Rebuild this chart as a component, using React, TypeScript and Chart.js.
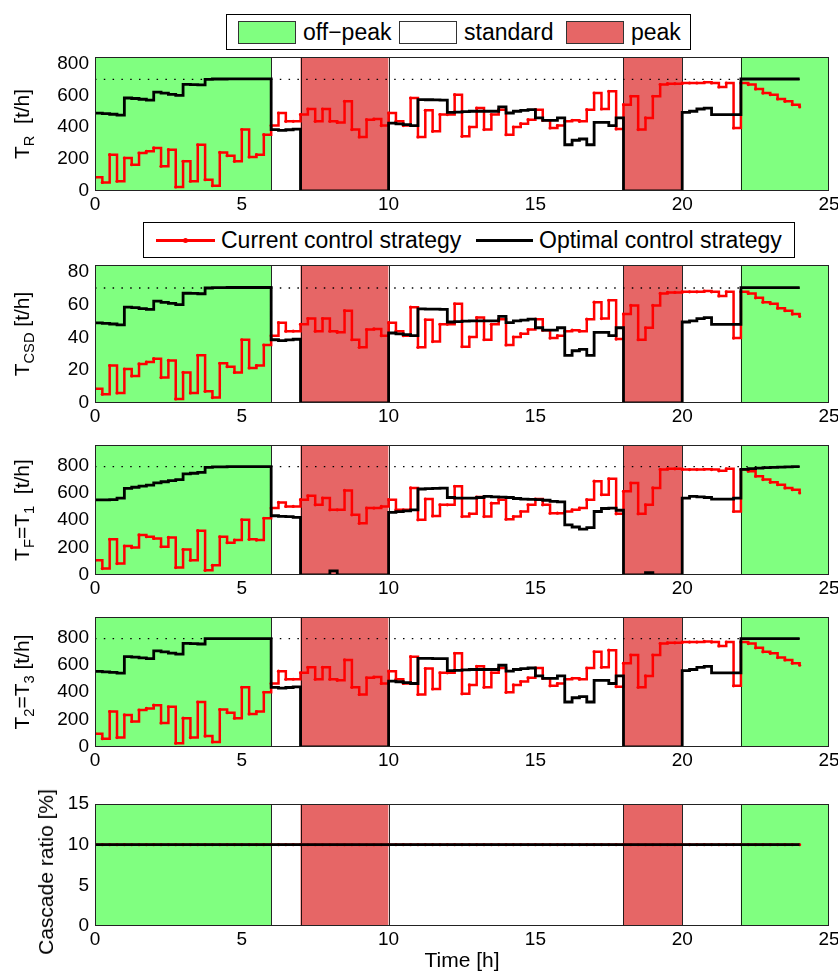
import React, { useEffect, useRef } from "react";
import { Chart, registerables } from "chart.js";
Chart.register(...registerables);

const FONT = '"Liberation Sans", Arial, Helvetica, sans-serif';

// time grid [h]
const TIME = [0,0.25,0.5,0.75,1,1.25,1.5,1.75,2,2.25,2.5,2.75,3,3.25,3.5,3.75,4,4.25,4.5,4.75,5,5.25,5.5,5.75,6,6.25,6.5,6.75,7,7.25,7.5,7.75,8,8.25,8.5,8.75,9,9.25,9.5,9.75,10,10.25,10.5,10.75,11,11.25,11.5,11.75,12,12.25,12.5,12.75,13,13.25,13.5,13.75,14,14.25,14.5,14.75,15,15.25,15.5,15.75,16,16.25,16.5,16.75,17,17.25,17.5,17.75,18,18.25,18.5,18.75,19,19.25,19.5,19.75,20,20.25,20.5,20.75,21,21.25,21.5,21.75,22,22.25,22.5,22.75,23,23.25,23.5,23.75,24];

// T_R [t/h]
const T_R_CURRENT = [86,54,228,61,207,165,238,249,270,155,259,25,186,61,290,71,33,242,221,186,385,213,228,353,
410,489,437,437,479,514,437,514,437,430,562,385,339,447,451,410,489,437,410,583,339,506,374,479,
479,604,343,401,520,385,479,510,353,401,422,447,510,443,395,410,437,443,437,510,614,514,625,389,
541,594,385,458,594,667,673,673,677,677,677,681,677,652,677,395,677,667,640,614,604,577,562,541,527];
const T_R_OPTIMAL = [488,485,481,476,583,580,575,570,620,613,606,599,668,667,665,700,702,702,703,703,703,703,703,703,
385,380,384,388,0,0,0,0,0,0,0,0,0,0,0,0,426,421,416,410,573,572,571,570,
493,495,498,500,500,500,500,527,489,500,505,510,458,443,443,458,290,318,326,290,430,430,410,458,
0,0,0,0,0,0,0,0,493,500,514,520,479,479,479,479,702,702,702,702,702,702,702,702,702];

// T_CSD [t/h]
const T_CSD_CURRENT = [8.6,5.4,22.8,6.1,20.7,16.5,23.8,24.9,27.0,15.5,25.9,2.5,18.6,6.1,29.0,7.1,3.3,24.2,22.1,18.6,38.5,21.3,22.8,35.3,
41.0,48.9,43.7,43.7,47.9,51.4,43.7,51.4,43.7,43.0,56.2,38.5,33.9,44.7,45.1,41.0,48.9,43.7,41.0,58.3,33.9,50.6,37.4,47.9,
47.9,60.4,34.3,40.1,52.0,38.5,47.9,51.0,35.3,40.1,42.2,44.7,51.0,44.3,39.5,41.0,43.7,44.3,43.7,51.0,61.4,51.4,62.5,38.9,
54.1,59.4,38.5,45.8,59.4,66.7,67.3,67.3,67.7,67.7,67.7,68.1,67.7,65.2,67.7,39.5,67.7,66.7,64.0,61.4,60.4,57.7,56.2,54.1,52.7];
const T_CSD_OPTIMAL = [48.8,48.5,48.1,47.6,58.3,58.0,57.5,57.0,62.0,61.3,60.6,59.9,66.8,66.7,66.5,70.0,70.2,70.2,70.3,70.3,70.3,70.3,70.3,70.3,
38.5,38.0,38.4,38.8,0,0,0,0,0,0,0,0,0,0,0,0,42.6,42.1,41.6,41.0,57.3,57.2,57.1,57.0,
49.3,49.5,49.8,50.0,50.0,50.0,50.0,52.7,48.9,50.0,50.5,51.0,45.8,44.3,44.3,45.8,29.0,31.8,32.6,29.0,43.0,43.0,41.0,45.8,
0,0,0,0,0,0,0,0,49.3,50.0,51.4,52.0,47.9,47.9,47.9,47.9,70.2,70.2,70.2,70.2,70.2,70.2,70.2,70.2,70.2];

// T_F = T_1 [t/h]
const T_F_CURRENT = [108,47,260,83,211,200,292,279,267,206,274,54,186,108,323,34,71,279,235,255,402,260,255,414,
488,529,500,500,549,578,512,561,475,475,617,439,377,488,488,500,549,475,475,635,402,554,431,512,
512,647,426,446,568,426,524,549,407,426,463,512,554,512,451,451,463,475,488,549,684,586,701,446,
610,671,446,512,635,769,774,774,770,769,769,771,769,760,774,463,769,757,720,696,676,659,635,622,598];
const T_F_OPTIMAL = [548,548,550,560,632,640,648,655,672,680,688,695,738,742,748,785,788,789,790,790,790,790,790,790,
432,428,425,420,0,0,0,0,30,0,0,0,0,0,0,0,456,462,468,475,627,630,632,634,
565,561,561,561,565,573,570,568,565,558,554,552,549,545,537,533,365,350,335,345,463,485,488,472,
0,0,0,18,0,0,0,0,561,573,570,565,554,554,554,561,770,775,780,783,785,787,788,790,790];

// T_2 = T_3 [t/h]
const T_23_CURRENT = [97,61,258,69,234,186,269,281,305,175,293,28,210,69,328,80,37,273,250,210,435,241,258,399,
463,553,494,494,541,581,494,581,494,486,635,435,383,505,510,463,553,494,463,659,383,572,423,541,
541,683,388,453,588,435,541,576,399,453,477,505,576,501,446,463,494,501,494,576,694,581,706,440,
611,671,435,518,671,754,760,760,765,765,765,770,765,737,765,446,765,754,723,694,683,652,635,611,596];
const T_23_OPTIMAL = [551,548,544,538,659,655,650,644,701,693,685,677,755,754,751,790,790,790,790,790,790,790,790,790,
435,429,434,438,0,0,0,0,0,0,0,0,0,0,0,0,481,476,470,463,647,646,645,644,
557,559,563,565,565,565,565,596,553,565,571,576,518,501,501,518,328,359,368,328,486,486,463,518,
0,0,0,0,0,0,0,0,557,565,581,588,541,541,541,541,790,790,790,790,790,790,790,790,790];

// Cascade ratio [%]
const CASCADE_CURRENT = [10,10,10,10,10,10,10,10,10,10,10,10,10,10,10,10,10,10,10,10,10,10,10,10,
10,10,10,10,10,10,10,10,10,10,10,10,10,10,10,10,10,10,10,10,10,10,10,10,
10,10,10,10,10,10,10,10,10,10,10,10,10,10,10,10,10,10,10,10,10,10,10,10,
10,10,10,10,10,10,10,10,10,10,10,10,10,10,10,10,10,10,10,10,10,10,10,10,10];
const CASCADE_OPTIMAL = [10,10,10,10,10,10,10,10,10,10,10,10,10,10,10,10,10,10,10,10,10,10,10,10,
10,10,10,10,10,10,10,10,10,10,10,10,10,10,10,10,10,10,10,10,10,10,10,10,
10,10,10,10,10,10,10,10,10,10,10,10,10,10,10,10,10,10,10,10,10,10,10,10,
10,10,10,10,10,10,10,10,10,10,10,10,10,10,10,10,10,10,10,10,10,10,10,10,10];

// capacity limits (dotted lines)
const LIMIT_VALUES = [700, 70, 790, 790];
const LIMIT_START = 0;
const LIMIT_END = 24;

// tick labels
const X_TICKS = [0, 5, 10, 15, 20, 25];
const Y_TICKS_T = [0, 200, 400, 600, 800];
const Y_TICKS_CSD = [0, 20, 40, 60, 80];
const Y_TICKS_RATIO = [0, 5, 10, 15];

// tariff periods
const BAND_START = [0, 6, 7, 10, 18, 20, 22];
const BAND_END = [6, 7, 10, 18, 20, 22, 25];
const BAND_KIND = ["off", "std", "peak", "std", "peak", "std", "off"];
const BAND_COLORS: Record<string, string> = { off: "#80ff80", std: "#ffffff", peak: "#e66666" };

const X_MIN = 0;
const X_MAX = 25;

const PAD_T = 10;

type PanelCfg = {
  plotTop: number;
  plotH: number;
  axisH: number;
  yMax: number;
  yTicks: number[];
  limit: number | null;
  current: number[];
  optimal: number[];
  xTitle: string | null;
};

const PANELS: PanelCfg[] = [
  { plotTop: 57, plotH: 134, axisH: 28, yMax: 840, yTicks: Y_TICKS_T, limit: LIMIT_VALUES[0], current: T_R_CURRENT, optimal: T_R_OPTIMAL, xTitle: null },
  { plotTop: 265, plotH: 138, axisH: 28, yMax: 84, yTicks: Y_TICKS_CSD, limit: LIMIT_VALUES[1], current: T_CSD_CURRENT, optimal: T_CSD_OPTIMAL, xTitle: null },
  { plotTop: 445, plotH: 130, axisH: 28, yMax: 948, yTicks: Y_TICKS_T, limit: LIMIT_VALUES[2], current: T_F_CURRENT, optimal: T_F_OPTIMAL, xTitle: null },
  { plotTop: 617, plotH: 130, axisH: 28, yMax: 948, yTicks: Y_TICKS_T, limit: LIMIT_VALUES[3], current: T_23_CURRENT, optimal: T_23_OPTIMAL, xTitle: null },
  { plotTop: 804, plotH: 122, axisH: 48, yMax: 15, yTicks: Y_TICKS_RATIO, limit: null, current: CASCADE_CURRENT, optimal: CASCADE_OPTIMAL, xTitle: "Time [h]" },
];

const bandsPlugin = {
  id: "bands",
  beforeDatasetsDraw(chart: any) {
    const { ctx, chartArea: a, scales } = chart;
    const x = scales.x;
    ctx.save();
    for (let i = 0; i < BAND_START.length; i++) {
      const x0 = x.getPixelForValue(BAND_START[i]);
      const x1 = x.getPixelForValue(BAND_END[i]);
      ctx.fillStyle = BAND_COLORS[BAND_KIND[i]];
      ctx.fillRect(x0, a.top, x1 - x0, a.bottom - a.top);
    }
    ctx.strokeStyle = "rgba(0,0,0,0.85)";
    ctx.lineWidth = 1;
    for (let i = 1; i < BAND_START.length; i++) {
      const px = Math.round(x.getPixelForValue(BAND_START[i])) + 0.5;
      ctx.beginPath();
      ctx.moveTo(px, a.top);
      ctx.lineTo(px, a.bottom);
      ctx.stroke();
    }
    ctx.restore();
  },
  afterDraw(chart: any) {
    const { ctx, chartArea: a } = chart;
    ctx.save();
    ctx.strokeStyle = "#222";
    ctx.lineWidth = 1;
    ctx.strokeRect(Math.round(a.left) + 0.5, Math.round(a.top) + 0.5, Math.round(a.right - a.left) - 1, Math.round(a.bottom - a.top) - 1);
    ctx.restore();
  },
};

function Panel({ cfg }: { cfg: PanelCfg }) {
  const ref = useRef<HTMLCanvasElement>(null);
  const h = PAD_T + cfg.plotH + cfg.axisH;
  useEffect(() => {
    const canvas = ref.current;
    if (!canvas) return;
    const datasets: any[] = [
      {
        label: "Optimal control strategy",
        data: TIME.map((t, i) => ({ x: t, y: cfg.optimal[i] })),
        borderColor: "#000000",
        borderWidth: 2.8,
        pointRadius: 0,
        stepped: true,
        fill: false,
        order: 0,
      },
      {
        label: "Current control strategy",
        data: TIME.map((t, i) => ({ x: t, y: cfg.current[i] })),
        borderColor: "#ff0000",
        borderWidth: 2.5,
        pointRadius: 1.6,
        pointBackgroundColor: "#ff0000",
        pointBorderWidth: 0,
        stepped: true,
        fill: false,
        order: 1,
      },
    ];
    if (cfg.limit !== null) {
      datasets.push({
        label: "limit",
        data: [
          { x: LIMIT_START, y: cfg.limit },
          { x: LIMIT_END, y: cfg.limit },
        ],
        borderColor: "#000000",
        borderWidth: 1.3,
        borderDash: [1.5, 7.3],
        pointRadius: 0,
        fill: false,
        order: 2,
      });
    }
    const axisH = cfg.axisH;
    const yTicks = cfg.yTicks;
    const chart = new Chart(canvas, {
      type: "line",
      data: { datasets },
      options: {
        animation: false,
        responsive: false,
        devicePixelRatio: 1,
        events: [],
        layout: { padding: { top: PAD_T, left: 0, right: 9, bottom: 0 } },
        plugins: { legend: { display: false }, tooltip: { enabled: false } },
        scales: {
          x: {
            type: "linear",
            min: X_MIN,
            max: X_MAX,
            grid: { display: false, drawTicks: false },
            border: { display: false },
            ticks: {
              autoSkip: false,
              maxRotation: 0,
              color: "#000",
              padding: 2,
              font: { family: FONT, size: 19 },
            },
            afterBuildTicks(s: any) {
              s.ticks = X_TICKS.map((v) => ({ value: v }));
            },
            title: {
              display: cfg.xTitle !== null,
              text: cfg.xTitle || "",
              color: "#000",
              font: { family: FONT, size: 21 },
              padding: { top: 0, bottom: 0 },
            },
            afterFit(s: any) {
              s.height = axisH;
              s.paddingLeft = 0;
              s.paddingRight = 0;
            },
          },
          y: {
            type: "linear",
            min: 0,
            max: cfg.yMax,
            grid: { display: false, drawTicks: false },
            border: { display: false },
            ticks: {
              autoSkip: false,
              color: "#000",
              padding: 6,
              font: { family: FONT, size: 19 },
            },
            afterBuildTicks(s: any) {
              s.ticks = yTicks.map((v) => ({ value: v }));
            },
            afterFit(s: any) {
              s.width = 95;
              s.paddingTop = 0;
              s.paddingBottom = 0;
            },
          },
        },
      } as any,
      plugins: [bandsPlugin],
    });
    return () => chart.destroy();
  }, [cfg]);
  return (
    <canvas
      ref={ref}
      width={838}
      height={h}
      style={{ position: "absolute", left: 0, top: cfg.plotTop - PAD_T, width: 838, height: h, display: "block" }}
    />
  );
}

const subStyle: React.CSSProperties = { fontSize: "70%", verticalAlign: "-0.35em", lineHeight: 0 };

function YTitle({ cx, cy, children }: { cx: number; cy: number; children: React.ReactNode }) {
  return (
    <div
      style={{
        position: "absolute",
        left: cx,
        top: cy,
        transform: "translate(-50%,-50%) rotate(-90deg)",
        whiteSpace: "nowrap",
        fontFamily: FONT,
        fontSize: 21,
        lineHeight: "24px",
        color: "#000",
      }}
    >
      {children}
    </div>
  );
}

function Swatch({ left, color }: { left: number; color: string }) {
  return (
    <div
      style={{
        position: "absolute",
        left,
        top: 6,
        width: 58,
        height: 23,
        background: color,
        border: "1px solid #333",
        boxSizing: "border-box",
      }}
    />
  );
}

function LegendText({ left, text }: { left: number; text: string }) {
  return (
    <div style={{ position: "absolute", left, top: 0, height: 34, lineHeight: "34px", fontSize: 23, fontFamily: FONT, whiteSpace: "nowrap", color: "#000" }}>
      {text}
    </div>
  );
}

export default function App() {
  return (
    <div style={{ position: "absolute", left: 0, top: 0, width: 838, height: 974, background: "#fff", overflow: "hidden" }}>
      {PANELS.map((p, i) => (
        <Panel key={i} cfg={p} />
      ))}

      {/* tariff legend */}
      <div style={{ position: "absolute", left: 226, top: 14, width: 465, height: 36, border: "1px solid #000", boxSizing: "border-box", background: "#fff" }}>
        <Swatch left={11} color={BAND_COLORS.off} />
        <LegendText left={76} text={"off\u2212peak"} />
        <Swatch left={172} color={BAND_COLORS.std} />
        <LegendText left={237} text="standard" />
        <Swatch left={339} color={BAND_COLORS.peak} />
        <LegendText left={404} text="peak" />
      </div>

      {/* strategy legend */}
      <div style={{ position: "absolute", left: 143, top: 222, width: 652, height: 36, border: "1px solid #000", boxSizing: "border-box", background: "#fff" }}>
        <div style={{ position: "absolute", left: 12, top: 16, width: 59, height: 3, background: "#ff0000" }} />
        <div style={{ position: "absolute", left: 39, top: 15, width: 5, height: 5, borderRadius: 3, background: "#ff0000" }} />
        <LegendText left={77} text="Current control strategy" />
        <div style={{ position: "absolute", left: 332, top: 16, width: 57, height: 3, background: "#000" }} />
        <LegendText left={395} text="Optimal control strategy" />
      </div>

      <YTitle cx={22} cy={124}>
        T<sub style={subStyle}>R</sub>&nbsp;&nbsp;[t/h]
      </YTitle>
      <YTitle cx={22} cy={334}>
        T<sub style={subStyle}>CSD</sub>&nbsp;[t/h]
      </YTitle>
      <YTitle cx={22} cy={510}>
        T<sub style={subStyle}>F</sub>=T<sub style={subStyle}>1</sub>&nbsp;&nbsp;[t/h]
      </YTitle>
      <YTitle cx={22} cy={682}>
        T<sub style={subStyle}>2</sub>=T<sub style={subStyle}>3</sub>&nbsp;[t/h]
      </YTitle>
      <YTitle cx={46} cy={872}>
        Cascade&nbsp;ratio&nbsp;[%]
      </YTitle>
    </div>
  );
}
